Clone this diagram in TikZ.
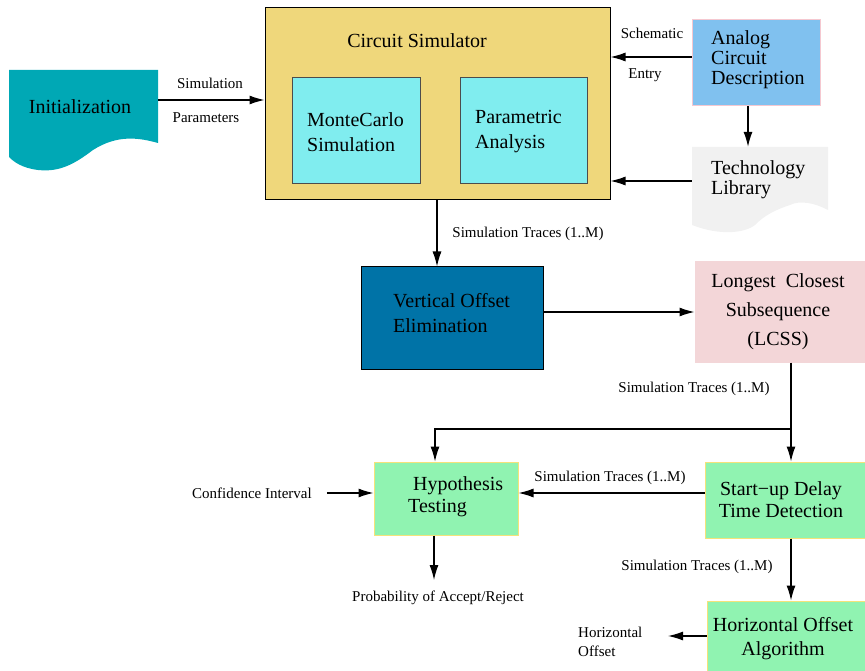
\documentclass[tikz,border=0pt]{standalone}
\usepackage{fontspec}
\setmainfont{Liberation Serif}
\usetikzlibrary{arrows.meta}
\definecolor{csgold}{HTML}{EFD77B}
\definecolor{cyanbox}{HTML}{80EDEF}
\definecolor{initteal}{HTML}{00A8B5}
\definecolor{analogblue}{HTML}{80C1EF}
\definecolor{techgray}{HTML}{F1F1F1}
\definecolor{vobox}{HTML}{0073A7}
\definecolor{lcsspink}{HTML}{F3D6D8}
\definecolor{greenbox}{HTML}{90F3B1}
\definecolor{yellowedge}{HTML}{F5E27A}
\definecolor{pinkedge}{HTML}{F5C8D0}
\tikzset{
  bigtxt/.style={font=\fontsize{20}{20}\selectfont, inner sep=0pt},
  smalltxt/.style={font=\fontsize{15}{19}\selectfont, inner sep=0pt},
  box/.style={draw=black, line width=1pt, inner sep=0pt},
  softbox/.style={draw=#1, line width=1pt, inner sep=0pt},
  arr/.style={line width=1.2pt, -{Latex[length=15pt,width=9pt]}},
  plain/.style={line width=1.2pt}
}
\begin{document}
\begin{tikzpicture}[x=1pt,y=-1pt]
\useasboundingbox (0,0) rectangle (865,671);

% Circuit simulator
\node[box, fill=csgold, minimum width=345pt, minimum height=192pt] (cs) at (437.5,104) {};
\node[bigtxt] (cstitle) at (417,41) {Circuit Simulator};
\node[box, draw=black!70, fill=cyanbox, minimum width=128pt, minimum height=106pt] (mc) at (356,131) {};
\node[bigtxt, align=left, anchor=west, font=\fontsize{20}{25}\selectfont] (mctxt) at (307,132) {MonteCarlo\\Simulation};
\node[box, draw=black!70, fill=cyanbox, minimum width=127pt, minimum height=106pt] (pa) at (523.5,131) {};
\node[bigtxt, align=left, anchor=west, font=\fontsize{20}{25}\selectfont] (patxt) at (475,132) {Parametric\\Analysis};

% Initialization document shape
\fill[initteal] (9,70) -- (158,70) -- (158,143)
  .. controls (140,138) and (118,134) .. (93,150)
  .. controls (72,166) and (58,172) .. (38,170)
  .. controls (22,168) and (14,162) .. (9,157) -- cycle;
\node[inner sep=0pt, minimum width=149pt, minimum height=87pt] (init) at (83.5,113.5) {};
\node[bigtxt] (inittxt) at (80,107) {Initialization};
\draw[arr] (init.east |- 0,100) -- (cs.west |- 0,100);
\node[smalltxt] (simlab) at (210,83) {Simulation};
\node[smalltxt] (parlab) at (206,118) {Parameters};

% Analog circuit description
\node[softbox=pinkedge, fill=analogblue, minimum width=128pt, minimum height=86pt] (acd) at (756,63) {};
\node[bigtxt, align=left, anchor=west] (acdtxt) at (711,60) {Analog\\Circuit\\Description};
\draw[arr] (acd.west |- 0,57) -- (cs.east |- 0,57);
\node[smalltxt] (schlab) at (652,33) {Schematic};
\node[smalltxt] (entlab) at (645,75) {Entry};

% Technology library document shape
\fill[techgray] (692,147) -- (828,147) -- (828,210)
  .. controls (815,203) and (800,200) .. (790,205)
  .. controls (775,210) and (765,215) .. (755,225)
  .. controls (745,233) and (720,236) .. (692,225) -- cycle;
\node[inner sep=0pt, minimum width=136pt, minimum height=80pt] (tech) at (760,187) {};
\node[bigtxt, align=left, anchor=west] (techtxt) at (711,180) {Technology\\Library};
\draw[arr] (acd.south -| 748,0) -- (tech.north -| 748,0);
\draw[arr] (tech.west |- 0,181) -- (cs.east |- 0,181);

% Vertical offset elimination
\node[box, fill=vobox, minimum width=182pt, minimum height=102pt] (vo) at (452,318) {};
\node[bigtxt, align=left, anchor=west, font=\fontsize{20}{25}\selectfont] (votxt) at (393,313) {Vertical Offset\\Elimination};
\draw[arr] (cs.south -| 437,0) -- (vo.north -| 437,0);
\node[smalltxt] (st1) at (528,234) {Simulation Traces (1..M)};

% LCSS
\node[softbox=lcsspink, fill=lcsspink, minimum width=170pt, minimum height=100pt] (lcss) at (780,312) {};
\node[bigtxt, align=center, font=\fontsize{20}{29}\selectfont] (lcsstxt) at (778,312) {Longest\ \ Closest\\Subsequence\\(LCSS)};
\draw[arr] (vo.east |- 0,312) -- (lcss.west |- 0,312);
\node[smalltxt] (st2) at (694,389) {Simulation Traces (1..M)};

% Start-up delay
\node[softbox=yellowedge, fill=greenbox, minimum width=160pt, minimum height=76pt] (sud) at (785,500) {};
\node[bigtxt, align=center, font=\fontsize{20}{22}\selectfont] (sudtxt) at (781,500) {Start\textminus up Delay\\Time Detection};
\coordinate (br) at (791,429);
\draw[plain] (lcss.south -| 791,0) -- (br);
\draw[arr] (br) -- (sud.north -| 791,0);

% Hypothesis testing
\node[softbox=yellowedge, fill=greenbox, minimum width=144pt, minimum height=73pt] (hyp) at (446,498.5) {};
\node[bigtxt, align=left, anchor=west, font=\fontsize{20}{22}\selectfont] (hyptxt) at (408,497) {\ Hypothesis\\Testing};
\draw[arr] (br) -| (hyp.north -| 435,0);
\draw[arr] (sud.west |- 0,493) -- (hyp.east |- 0,493);
\node[smalltxt] (st3) at (610,478) {Simulation Traces (1..M)};
\node[smalltxt] (ci) at (252,493) {Confidence Interval};
\draw[arr] ([xshift=15pt]ci.east) -- (hyp.west |- 0,493);
\node[smalltxt] (prob) at (438,598) {Probability of Accept/Reject};
\draw[arr] (hyp.south -| 434,0) -- (434,580);

% Horizontal offset algorithm
\node[softbox=yellowedge, fill=greenbox, minimum width=158pt, minimum height=72pt] (hoa) at (786,637) {};
\node[bigtxt, align=center, font=\fontsize{20}{24}\selectfont] (hoatxt) at (783,639) {Horizontal Offset\\Algorithm};
\draw[arr] (sud.south -| 791,0) -- (hoa.north -| 791,0);
\node[smalltxt] (st4) at (697,567) {Simulation Traces (1..M)};
\node[smalltxt, align=left, anchor=west] (holab) at (578,642) {Horizontal\\Offset};
\coordinate (hoend) at (668,636);
\draw[arr] (hoa.west |- hoend) -- (hoend);
\end{tikzpicture}
\end{document}
